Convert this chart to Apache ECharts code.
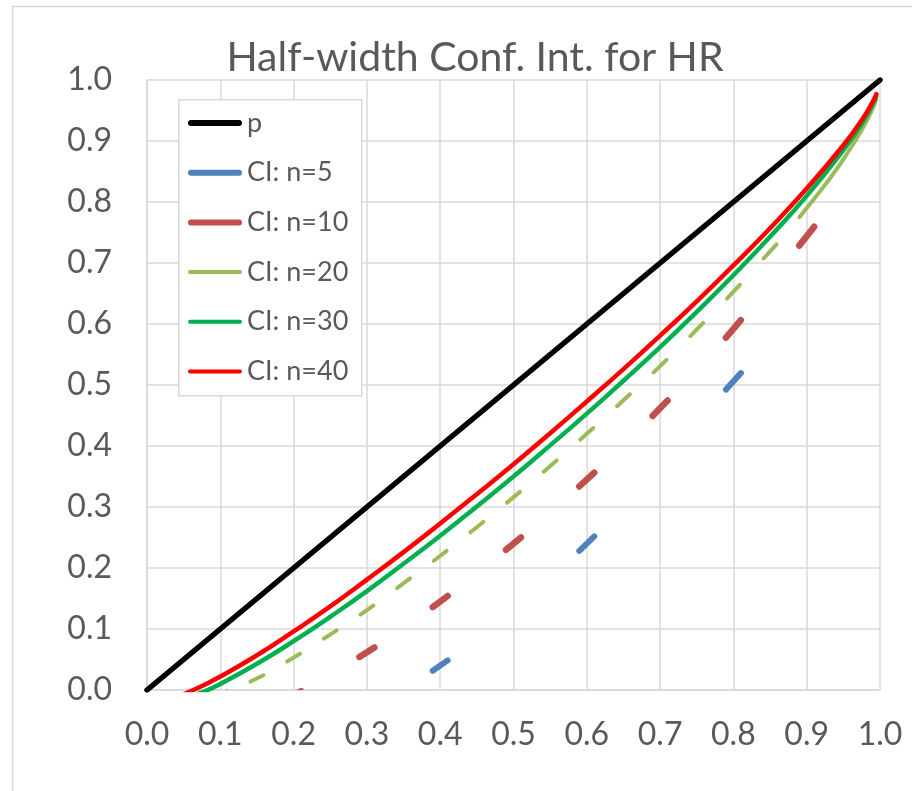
<!DOCTYPE html>
<html>
<head>
<meta charset="utf-8">
<script src="https://cdn.jsdelivr.net/npm/echarts@6/dist/echarts.min.js"></script>
<style>
html,body{margin:0;padding:0;background:#fff;}
#chart{width:912px;height:791px;}
</style>
</head>
<body>
<div id="chart"></div>
<script>
// ---------------- data ----------------
const tickLabels = ['0.0','0.1','0.2','0.3','0.4','0.5','0.6','0.7','0.8','0.9','1.0'];
const seriesNames = ['p','CI: n=5','CI: n=10','CI: n=20','CI: n=30','CI: n=40'];

const pX = [0, 1];
const pY = [0, 1];

const n5X = [0.2, 0.4, 0.6, 0.8];
const n5Y = [-0.094, 0.040, 0.240, 0.506];

const n10X = [0.1, 0.2, 0.3, 0.4, 0.5, 0.6, 0.7, 0.8, 0.9];
const n10Y = [-0.056, -0.008, 0.062, 0.145, 0.240, 0.345, 0.462, 0.592, 0.744];

const n20X = [0.05, 0.1, 0.15, 0.2, 0.25, 0.3, 0.35, 0.4, 0.45, 0.5, 0.55, 0.6, 0.65, 0.7, 0.75, 0.8, 0.85];
const n20Y = [-0.030, -0.006, 0.019, 0.053, 0.091, 0.131, 0.175, 0.220, 0.267, 0.316, 0.367, 0.420, 0.475, 0.531, 0.591, 0.653, 0.719];
const n20TailX = [0.89, 0.9, 0.925, 0.95, 0.975, 0.99, 0.995];
const n20TailY = [0.775, 0.790, 0.828, 0.870, 0.918, 0.953, 0.969];

const curveX = [0.05, 0.075, 0.1, 0.15, 0.2, 0.25, 0.3, 0.35, 0.4, 0.45, 0.5, 0.55, 0.6, 0.65, 0.7, 0.75, 0.8, 0.85, 0.9, 0.95, 0.975, 0.99, 0.995];
const n30Y = [-0.015, -0.004, 0.010, 0.043, 0.080, 0.120, 0.162, 0.207, 0.253, 0.301, 0.350, 0.401, 0.453, 0.507, 0.562, 0.620, 0.680, 0.743, 0.810, 0.885, 0.928, 0.960, 0.974];
const n40Y = [-0.007, 0.0065, 0.022, 0.057, 0.096, 0.137, 0.181, 0.226, 0.273, 0.321, 0.370, 0.421, 0.473, 0.526, 0.581, 0.637, 0.696, 0.757, 0.822, 0.893, 0.934, 0.964, 0.977];

// ---------------- styles ----------------
const FONT = 'Lato';
const TXT = '#595959';
const GRID = '#d9d9d9';
const colors = ['#000000', '#4f81bd', '#c0504d', '#9bbb59', '#00b050', '#ff0000'];

function pairs(xs, ys) { return xs.map((x, i) => [x, ys[i]]); }

function dashSeries(name, xs, ys, color, width, halfX) {
  return {
    name: name,
    type: 'custom',
    coordinateSystem: 'cartesian2d',
    clip: true,
    itemStyle: { color: color },
    encode: { x: 0, y: 1 },
    data: pairs(xs, ys),
    z: 2,
    renderItem: function (params, api) {
      const i = params.dataIndex;
      const n = xs.length;
      const i0 = Math.max(0, i - 1), i1 = Math.min(n - 1, i + 1);
      const slope = (ys[i1] - ys[i0]) / (xs[i1] - xs[i0]);
      const x = api.value(0), y = api.value(1);
      const a = api.coord([x - halfX, y - halfX * slope]);
      const b = api.coord([x + halfX, y + halfX * slope]);
      return {
        type: 'line',
        shape: { x1: a[0], y1: a[1], x2: b[0], y2: b[1] },
        style: { stroke: color, lineWidth: width, lineCap: 'round', fill: null }
      };
    }
  };
}

function lineSeries(name, data, color, width, smooth) {
  return {
    name: name,
    type: 'line',
    data: data,
    showSymbol: false,
    smooth: smooth,
    clip: true,
    color: color,
    itemStyle: { color: color },
    lineStyle: { color: color, width: width, cap: 'round' },
    z: 2
  };
}

const capsuleThick = 'path://M3,0 L51,0 A3,3 0 0 1 51,6 L3,6 A3,3 0 0 1 3,0 Z';
const capsuleThin = 'path://M2,0 L52,0 A2,2 0 0 1 52,4 L2,4 A2,2 0 0 1 2,0 Z';

function labelFmt(v) { return tickLabels[Math.round(v * 10)]; }

function legendItem(i, icon) {
  return { name: seriesNames[i], icon: icon, itemStyle: { color: colors[i], borderWidth: 0, borderColor: colors[i], borderType: 'solid', decal: 'none' } };
}

const chart = echarts.init(document.getElementById('chart'), null, { renderer: 'canvas' });

const legendText = { fontFamily: FONT, fontSize: 27, color: TXT, lineHeight: 30 };

const option = {
  animation: false,
  backgroundColor: '#ffffff',
  title: {
    text: 'Half-width Conf. Int. for HR',
    left: 470,
    textAlign: 'center',
    top: 32,
    textStyle: { fontFamily: FONT, fontSize: 41, fontWeight: 'normal', color: TXT }
  },
  graphic: [
    { type: 'rect', left: 10, top: 4, shape: { width: 1000, height: 900 }, style: { fill: null, stroke: GRID, lineWidth: 1.5 }, z: -1, silent: true },
    { type: 'rect', left: 178, top: 99, shape: { width: 183, height: 296 }, style: { fill: '#ffffff', stroke: GRID, lineWidth: 1.5 }, z: 3, silent: true }
  ],
  legend: [
    {
      orient: 'vertical', left: 188, top: 108, padding: 0,
      itemWidth: 54, itemHeight: 6, itemGap: 19.7,
      selectedMode: false, z: 5,
      textStyle: legendText,
      data: [legendItem(0, capsuleThick), legendItem(1, capsuleThick), legendItem(2, capsuleThick)]
    },
    {
      orient: 'vertical', left: 188, top: 257, padding: 0,
      itemWidth: 54, itemHeight: 4, itemGap: 19.7,
      selectedMode: false, z: 5,
      textStyle: legendText,
      data: [legendItem(3, capsuleThin), legendItem(4, capsuleThin), legendItem(5, capsuleThin)]
    }
  ],
  grid: { left: 147, right: 32, top: 80, bottom: 101, containLabel: false },
  xAxis: {
    type: 'value', min: 0, max: 1, interval: 0.1,
    axisLine: { show: true, lineStyle: { color: GRID, width: 1.5 } },
    axisTick: { show: false },
    splitLine: { show: true, lineStyle: { color: GRID, width: 1.5 } },
    axisLabel: { formatter: labelFmt, fontFamily: FONT, fontSize: 32, color: TXT, margin: 29 }
  },
  yAxis: {
    type: 'value', min: 0, max: 1, interval: 0.1,
    axisLine: { show: true, lineStyle: { color: GRID, width: 1.5 } },
    axisTick: { show: false },
    splitLine: { show: true, lineStyle: { color: GRID, width: 1.5 } },
    axisLabel: { formatter: labelFmt, fontFamily: FONT, fontSize: 32, color: TXT, margin: 35 }
  },
  series: [
    lineSeries(seriesNames[0], pairs(pX, pY), colors[0], 5.5, false),
    dashSeries(seriesNames[1], n5X, n5Y, colors[1], 6, 0.0102),
    dashSeries(seriesNames[2], n10X, n10Y, colors[2], 6.5, 0.0102),
    dashSeries(seriesNames[3], n20X, n20Y, colors[3], 4, 0.0088),
    {
      name: 'n20tail', type: 'line', data: pairs(n20TailX, n20TailY), showSymbol: false, smooth: true, clip: true,
      lineStyle: { color: colors[3], width: 4, cap: 'round' }, itemStyle: { color: colors[3] }, z: 2
    },
    lineSeries(seriesNames[4], pairs(curveX, n30Y), colors[4], 4.5, true),
    lineSeries(seriesNames[5], pairs(curveX, n40Y), colors[5], 4.5, true)
  ]
};
chart.setOption(option);
</script>
</body>
</html>
